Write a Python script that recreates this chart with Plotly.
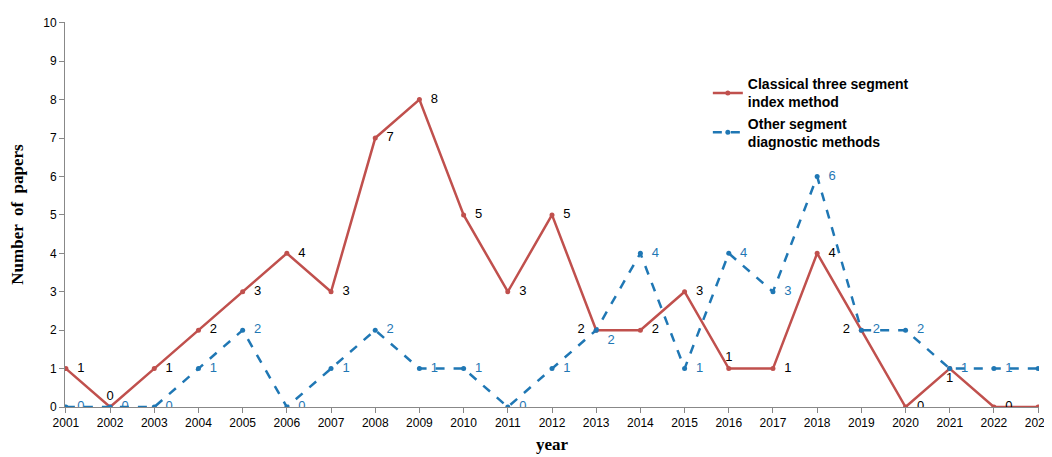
import plotly.graph_objects as go

years = [str(y) for y in range(2001, 2024)]
classical = [1, 0, 1, 2, 3, 4, 3, 7, 8, 5, 3, 5, 2, 2, 3, 1, 1, 4, 2, 0, 1, 0, 0]
other = [0, 0, 0, 1, 2, 0, 1, 2, 1, 1, 0, 1, 2, 4, 1, 4, 3, 6, 2, 2, 1, 1, 1]

red_pos = ["middle right"] * 23
red_pos[1] = "top center"
red_pos[12] = "middle left"
red_pos[15] = "top center"
red_pos[18] = "middle left"
red_pos[20] = "bottom center"
blue_pos = ["middle right"] * 23
blue_pos[12] = "bottom right"


def pad(vals, pos):
    out = []
    for v, p in zip(vals, pos):
        if p.endswith("right"):
            out.append("  " + str(v))
        elif p.endswith("left"):
            out.append(str(v) + "  ")
        else:
            out.append(str(v))
    return out


fig = go.Figure()
fig.add_trace(go.Scatter(
    x=years, y=classical, mode="lines+markers+text",
    name="<b>Classical three segment<br>index method</b>",
    line=dict(color="#c0504d", width=2.5), marker=dict(size=5, color="#c0504d"),
    text=pad(classical, red_pos), textposition=red_pos,
    textfont=dict(color="black", size=13, family="Arial")))
fig.add_trace(go.Scatter(
    x=years, y=other, mode="lines+markers+text",
    name="<b>Other segment<br>diagnostic methods</b>",
    line=dict(color="#1f77b4", width=2.5, dash="dash"), marker=dict(size=5, color="#1f77b4"),
    text=pad(other, blue_pos), textposition=blue_pos,
    textfont=dict(color="#1f77b4", size=13, family="Arial")))

fig.update_layout(
    width=1052, height=457, plot_bgcolor="white", paper_bgcolor="white",
    margin=dict(l=45, r=20, t=8, b=58),
    font=dict(family="Arial", size=12, color="black"),
    legend=dict(x=0.66, y=0.88, bgcolor="rgba(0,0,0,0)",
                font=dict(size=14, family="Arial", color="black")),
    xaxis=dict(type="category", showline=True, linecolor="#888", ticks="outside", ticklen=5,
               tickcolor="#888", range=[-0.02, 22.02], tickfont=dict(size=12),
               title=dict(text="<b>year</b>", font=dict(family="Liberation Serif", size=17),
                          standoff=8)),
    yaxis=dict(range=[0, 10.02], dtick=1, showline=True, linecolor="#888", ticks="outside",
               ticklen=5, tickcolor="#888", showgrid=False, zeroline=False,
               title=dict(text="<b>Number  of  papers</b>", font=dict(family="Liberation Serif", size=17))),
)
fig.write_html("out.html")
